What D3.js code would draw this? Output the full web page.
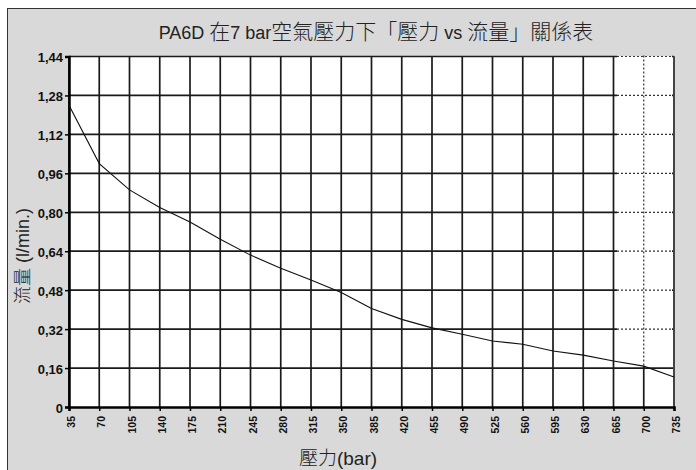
<!DOCTYPE html>
<html><head><meta charset="utf-8">
<script src="https://cdn.jsdelivr.net/npm/d3@7"></script>
<style>html,body{margin:0;padding:0;background:#fff;}svg{display:block;}</style>
</head><body>
<script>
// ---- data ----
const pressures = [35,70,105,140,175,210,245,280,315,350,385,420,455,490,525,560,595,630,665,700,735];
const flows = [1.24,1.0,0.892,0.82,0.76,0.689,0.624,0.57,0.522,0.47,0.405,0.36,0.325,0.299,0.271,0.258,0.23,0.213,0.189,0.168,0.123];
const yTicks = [0,0.16,0.32,0.48,0.64,0.80,0.96,1.12,1.28,1.44];
const yTickLabels = ["0","0,16","0,32","0,48","0,64","0,80","0,96","1,12","1,28","1,44"];
const titleParts = [["PA6D ","lat"],["在","cjk"],["7 bar","lat"],["空氣壓力下「壓力","cjk"],[" vs ","lat"],["流量」關係表","cjk"]];
const xTitle = [["壓力","cjk"],["(bar)","lat"]];
const yTitle = [["流量","cjk"],[" (l/min.)","lat"]];

const W = 696, H = 470;
const svg = d3.select("body").append("svg").attr("width", W).attr("height", H);
const LAT = "'Liberation Sans', Arial, sans-serif";
const CJK = "'Noto Sans CJK TC', 'Noto Sans CJK SC', sans-serif";

// frame
svg.append("rect").attr("x",7.5).attr("y",8.5).attr("width",W).attr("height",H)
  .attr("fill","#d9d9d9").attr("stroke","#333").attr("stroke-width",1);

const x0 = 69, x1 = 674, y0 = 407, y1 = 56.5;
const x = d3.scaleLinear().domain([35,735]).range([x0,x1]);
const y = d3.scaleLinear().domain([0,1.44]).range([y0,y1]);

// plot bg
svg.append("rect").attr("x",x0).attr("y",y1).attr("width",x1-x0).attr("height",y0-y1).attr("fill","#fff");

const grid = svg.append("g").attr("stroke","#1a1a1a").attr("stroke-width",1.7);
yTicks.forEach(v=>{
  if(v===0) return;
  grid.append("line").attr("x1",x0).attr("x2",x1).attr("y1",y(v)).attr("y2",y(v));
});
pressures.forEach(p=>{
  grid.append("line").attr("x1",x(p)).attr("x2",x(p)).attr("y1",y1).attr("y2",y0);
});

// dotted region (as in reference)
const rx0 = 617, rx1 = 672, ry0 = y1-1, ry1 = 366;
svg.append("rect").attr("x",rx0).attr("y",ry0).attr("width",rx1-rx0).attr("height",ry1-ry0).attr("fill","#fff");
const dg = svg.append("g").attr("stroke","#333").attr("stroke-width",1.2).attr("stroke-dasharray","2,2");
yTicks.forEach(v=>{
  if(y(v) < ry0 || y(v) > ry1) return;
  dg.append("line").attr("x1",rx0).attr("x2",rx1).attr("y1",y(v)).attr("y2",y(v));
});
dg.append("line").attr("x1",x(700)).attr("x2",x(700)).attr("y1",ry0).attr("y2",ry1);

// right border
svg.append("line").attr("x1",x1).attr("x2",x1).attr("y1",y1).attr("y2",y0).attr("stroke","#444").attr("stroke-width",2);

// axes
const xAxis = d3.axisBottom(x).tickValues(pressures).tickSize(4).tickFormat("");
const gx = svg.append("g").attr("transform",`translate(0,${y0})`).call(xAxis);
gx.select(".domain").attr("stroke","#000").attr("stroke-width",2.5);
gx.selectAll(".tick line").attr("stroke","#000").attr("stroke-width",1.5);
const yAxis = d3.axisLeft(y).tickValues(yTicks).tickSize(4).tickFormat("");
const gy = svg.append("g").attr("transform",`translate(${x0},0)`).call(yAxis);
gy.select(".domain").attr("stroke","#000").attr("stroke-width",2.5);
gy.selectAll(".tick line").attr("stroke","#000").attr("stroke-width",1.5);

// y labels
yTicks.forEach((v,i)=>{
  svg.append("text").attr("x",63).attr("y",y(v)+5.5).attr("text-anchor","end")
    .attr("font-family",LAT).attr("font-weight","bold").attr("font-size",13).attr("fill","#111")
    .text(yTickLabels[i]);
});
// x labels
pressures.forEach(p=>{
  svg.append("text").attr("transform",`translate(${x(p)+6},416) rotate(-90)`).attr("text-anchor","end")
    .attr("font-family",LAT).attr("font-weight","bold").attr("font-size",10.5).attr("fill","#111")
    .text(p);
});

// line
const line = d3.line().x((d,i)=>x(pressures[i])).y(d=>y(d));
svg.append("path").datum(flows).attr("d",line).attr("fill","none").attr("stroke","#111").attr("stroke-width",1.1);

function richText(parent, parts, latSize, cjkSize){
  const t = parent.append("text").attr("fill","#222");
  parts.forEach(([s,k])=>{
    t.append("tspan").text(s)
      .attr("font-family", k==="cjk"?CJK:LAT)
      .attr("font-size", k==="cjk"?cjkSize:latSize)
      .attr("font-weight", k==="cjk"?300:"normal");
  });
  return t;
}
// title
richText(svg, titleParts, 18, 21).attr("x",376).attr("y",39).attr("text-anchor","middle").attr("xml:space","preserve");
// x title
richText(svg, xTitle, 19, 19).attr("x",338).attr("y",465).attr("text-anchor","middle");
// y title
richText(svg, yTitle, 18, 18).attr("transform","translate(29,256) rotate(-90)").attr("text-anchor","middle").attr("xml:space","preserve");
</script>
</body></html>
